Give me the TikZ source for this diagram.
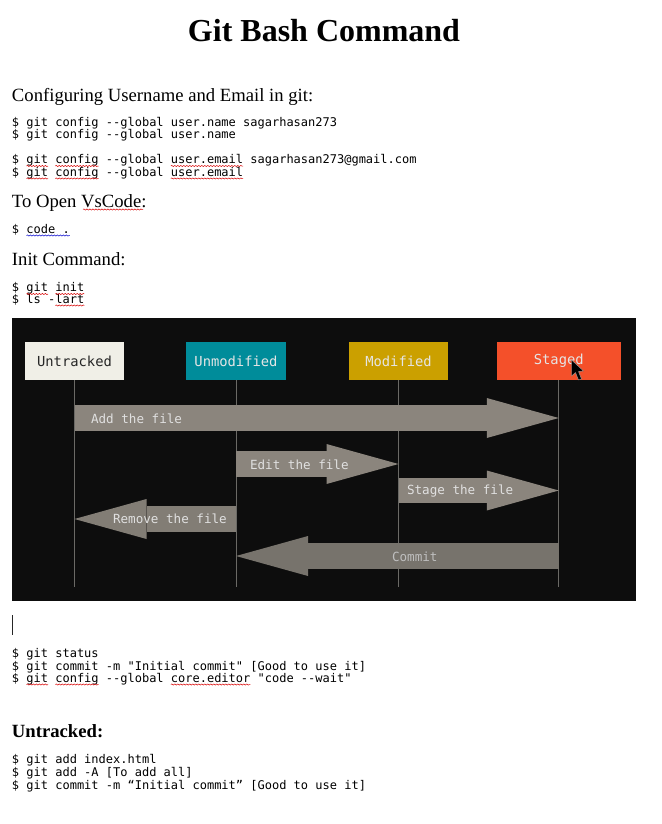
\documentclass[tikz,border=0pt]{standalone}
\usepackage{fontspec}
\usetikzlibrary{positioning, arrows.meta, calc, decorations.pathmorphing}
\setmainfont{Liberation Serif}
\newfontfamily\codefont{DejaVu Sans Mono}
\definecolor{panelbg}{HTML}{0D0D0D}
\definecolor{flowgray}{HTML}{8B857D}
\definecolor{removegray}{HTML}{827D75}
\definecolor{commitgray}{HTML}{77736C}
\definecolor{lifegray}{HTML}{6A6965}
\definecolor{untrackedfill}{HTML}{F0EFE7}
\definecolor{unmodifiedfill}{HTML}{008C9A}
\definecolor{modifiedfill}{HTML}{CBA000}
\definecolor{stagedfill}{HTML}{F4502A}
\tikzset{
x=1pt, y=-1pt, % one unit is one pixel of the page, counted from the top
every node/.style={inner sep=0pt, outer sep=0pt},
title/.style={font=\fontsize{32}{36}\selectfont\bfseries, anchor=base},
heading/.style={font=\fontsize{18.67}{22}\selectfont, anchor=base west},
codeline/.style={font=\fontsize{12}{14}\codefont, anchor=base west},
statebox/.style={minimum width=99.5pt, minimum height=38pt, font=\fontsize{13.8}{16}\codefont},
flowlabel/.style={font=\fontsize{12.6}{15}\codefont, text=#1},
flowlabel/.default={black!12},
lifeline/.style={draw=lifegray, line width=1pt},
flow/.style={draw=#1, line width=25.5pt, -{Triangle[length=72pt, width=40pt, line width=0pt, color=#1, fill=#1]}},
flow/.default={flowgray},
squiggle/.style={decorate, decoration={snake, amplitude=.6pt, segment length=3pt}, line width=.5pt},
}
% wavy spell-check line under the characters #3 to #4 of a code line
\newcommand{\squig}[4][red!85!black]{\draw[squiggle, #1] ($(#2.base west)+(#3*7.22,2.5)$) -- ($(#2.base west)+(#4*7.22,2.5)$);}

\begin{document}
\begin{tikzpicture}
\path[fill=white, use as bounding box] (0,0) rectangle (661,824);

% page text above the picture
\node[title] (pagetitle) at (324,42) {Git Bash Command};
\node[heading] (headconfig) at (12,101.5) {Configuring Username and Email in git:};
\node[codeline] (setname) at (12,127) {\$ git config --global user.name sagarhasan273};
\node[codeline] (getname) at (12,139) {\$ git config --global user.name};
\node[codeline] (setmail) at (12,163.5) {\$ git config --global user.email sagarhasan273@gmail.com};
\node[codeline] (getmail) at (12,176) {\$ git config --global user.email};
\node[heading] (headopen) at (12,207.5) {To Open VsCode:};
\node[codeline] (opencode) at (12,233) {\$ code .};
\node[heading] (headinit) at (12,265) {Init Command:};
\node[codeline] (gitinit) at (12,291.5) {\$ git init};
\node[codeline] (lslart) at (12,303) {\$ ls -lart};

% spell-check marks
\foreach \cmd in {setmail, getmail} {
  \squig{\cmd}{2}{5}
  \squig{\cmd}{6}{12}
  \squig{\cmd}{22}{32}
}
\draw[squiggle, red!85!black] ($(headopen.base west)+(71,2)$) -- ($(headopen.base west)+(131,2)$);
\squig[blue!80!black]{opencode}{2}{8}
\squig{gitinit}{2}{5}
\squig{gitinit}{6}{10}
\squig{lslart}{6}{10}

% dark panel
\fill[panelbg] (12,318) rectangle (636,601);
\node[statebox, fill=untrackedfill, text=black!85] (untracked) at (74.5,361) {Untracked};
\node[statebox, fill=unmodifiedfill, text=white!90!black, right=62pt of untracked] (unmodified) {Unmodified};
\node[statebox, fill=modifiedfill, text=white!90!black, right=63pt of unmodified] (modified) {Modified};
\node[statebox, minimum width=124pt, fill=stagedfill, text=white!90!black, right=48.5pt of modified] (staged) {Staged};

% rows of the arrows
\coordinate (addrow) at (0,418);
\coordinate (editrow) at (0,464);
\coordinate (stagerow) at (0,490.5);
\coordinate (removerow) at (0,519);
\coordinate (commitrow) at (0,556);
\coordinate (endrow) at (0,587);

\foreach \statename in {untracked, unmodified, modified, staged}
  \draw[lifeline] (\statename) -- (\statename |- endrow);

\draw[flow] (untracked |- addrow) -- (staged |- addrow);
\draw[flow] (unmodified |- editrow) -- (modified |- editrow);
\draw[flow] (modified |- stagerow) -- (staged |- stagerow);
\draw[flow=removegray] (unmodified |- removerow) -- (untracked |- removerow);
\draw[flow=commitgray] (staged |- commitrow) -- (unmodified |- commitrow);

\node[flowlabel, anchor=west] (addlabel) at (91,419) {Add the file};
\node[flowlabel, anchor=west] (editlabel) at (250,465) {Edit the file};
\node[flowlabel, anchor=west] (stagelabel) at (407,491.5) {Stage the file};
\node[flowlabel, anchor=west] (removelabel) at (113,519) {Remove the file};
\node[flowlabel=black!25, anchor=west] (commitlabel) at (392,556.5) {Commit};

% mouse pointer
\filldraw[draw=black!35, line width=.4pt, fill=black, line join=round] (571.5,360) -- (571.5,376) -- (575.5,372.5) -- (578.5,380) -- (581.5,379) -- (578.5,371.5) -- (583.5,371) -- cycle;

% page text below the picture
\coordinate (caretend) at (12.5,635);
\coordinate (caretstart) at (12.5,615);
\draw[black!85, line width=.8pt] (caretstart) -- (caretend);
\node[codeline] (gitstatus) at (12,657) {\$ git status};
\node[codeline] (commitone) at (12,670) {\$ git commit -m "Initial commit" [Good to use it]};
\node[codeline] (coreeditor) at (12,682) {\$ git config --global core.editor "code --wait"};
\squig{coreeditor}{2}{5}
\squig{coreeditor}{6}{12}
\squig{coreeditor}{22}{33}
\node[heading, font=\fontsize{18.67}{22}\selectfont\bfseries] (headuntracked) at (12,737) {Untracked:};
\node[codeline] (addindex) at (12,763) {\$ git add index.html};
\node[codeline] (addall) at (12,776) {\$ git add -A [To add all]};
\node[codeline] (committwo) at (12,789) {\$ git commit -m “Initial commit” [Good to use it]};
\end{tikzpicture}
\end{document}
